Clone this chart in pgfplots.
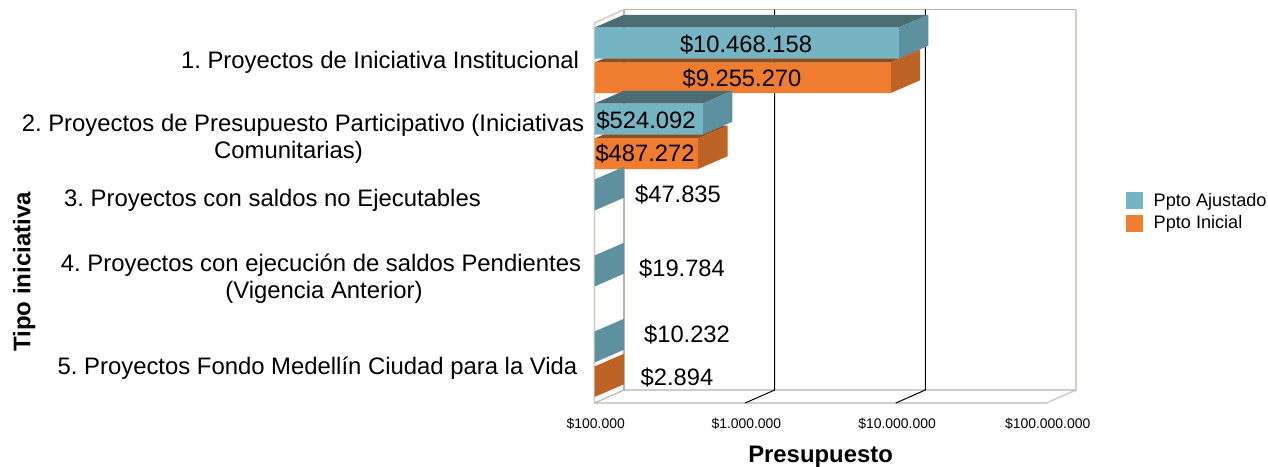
\documentclass[border=0pt]{standalone}
\usepackage{pgfplots}
\pgfplotsset{compat=1.18}
\usepackage{fontspec}
\setmainfont{Liberation Sans}
\frenchspacing
\definecolor{cB}{HTML}{75B4C2}
\definecolor{cBs}{HTML}{5E919F}
\definecolor{cBt}{HTML}{4A6D74}
\definecolor{cO}{HTML}{F07D2F}
\definecolor{cOs}{HTML}{BC6325}
\definecolor{cOt}{HTML}{8F4E1F}
\definecolor{cW}{HTML}{D0D0C8}
\definecolor{cWd}{HTML}{B4B4AA}
\newcommand\catfont{\fontsize{17.9pt}{20pt}\selectfont}
\newcommand\valfont{\fontsize{17.8pt}{20pt}\selectfont}
\begin{document}
\begin{tikzpicture}
\path[use as bounding box] (0pt,0pt) rectangle (951pt,350.25pt);
\begin{axis}[
  at={(445.875pt,48pt)},anchor=south west,
  scale only axis,width=361.1pt,height=295.1pt,
  xmode=log,xmin=1e5,xmax=1.569e8,log origin=infty,
  y dir=reverse,ymin=-0.6776,ymax=4.5,
  clip=false,
  axis line style={draw=none},
  major tick length=0pt,minor tick length=0pt,tick style={draw=none},
  minor x tick num=0,
  xtick={1e5,1e6,1e7,1e8},xtick pos=bottom,
  xticklabels={\$100.000,\$1.000.000,\$10.000.000,\$100.000.000},
  xticklabel style={font=\fontsize{10.45pt}{12pt}\selectfont,anchor=center,yshift=-15.8pt,xshift=0.9pt},
  ytick=\empty,
  xlabel={\textbf{Presupuesto}},
  xlabel style={font=\fontsize{17.9pt}{20pt}\selectfont,at={(axis description cs:0.4695,-0.1372)},anchor=center},
  ylabel={\textbf{Tipo iniciativa}},
  ylabel style={font=\fontsize{18pt}{20pt}\selectfont,at={(axis description cs:-1.1848,0.3330)},anchor=center},
  legend style={at={(axis description cs:1.1035,0.485)},anchor=west,draw=none,fill=none,
    font=\fontsize{13.6pt}{16pt}\selectfont,row sep=1.5pt,inner sep=0pt,
    /tikz/every odd column/.append style={column sep=5.9pt}},
  legend cell align=left,
  legend image code/.code={\fill[#1,draw=none] (0pt,-6.4pt) rectangle (12.8pt,6.4pt);},
]
\addlegendimage{fill=cB}\addlegendentry{Ppto Ajustado}
\addlegendimage{fill=cO}\addlegendentry{Ppto Inicial}
% walls
\addplot[cWd,line width=0.8pt,forget plot] coordinates {(156900,4.329)(156900,-0.6776)(1.569e8,-0.6776)};
\addplot[cW,line width=1.2pt,forget plot] coordinates {(1.569e8,-0.6776)(1.569e8,4.329)(1e8,4.5)(1e5,4.5)(1e5,-0.5)(156900,-0.6776)};
\addplot[cWd,line width=0.8pt,forget plot] coordinates {(1e5,4.5)(156900,4.329)(1.569e8,4.329)};
% gridlines
\addplot[black,line width=0.75pt,forget plot] coordinates {(1.569e6,-0.6776)(1.569e6,4.329)(1e6,4.5)};
\addplot[black,line width=0.75pt,forget plot] coordinates {(1.569e7,-0.6776)(1.569e7,4.329)(1e7,4.5)};
% Ppto Inicial
\addplot[fill=cOt,draw=none,forget plot] coordinates {(1e5,0.0197)(9255270,0.0197)(14521520,-0.1483)(156900,-0.1483)} -- cycle;
\addplot[fill=cOs,draw=none,forget plot] coordinates {(9255270,0.0197)(14521520,-0.1483)(14521520,0.253)(9255270,0.421)} -- cycle;
\addplot[fill=cOt,draw=none,forget plot] coordinates {(1e5,1.0197)(487272,1.0197)(764530,0.8517)(156900,0.8517)} -- cycle;
\addplot[fill=cOs,draw=none,forget plot] coordinates {(487272,1.0197)(764530,0.8517)(764530,1.253)(487272,1.421)} -- cycle;
\addplot[fill=cOs,draw=none,forget plot] coordinates {(1e5,4.0197)(156900,3.8517)(156900,4.253)(1e5,4.421)} -- cycle;
\addplot[xbar,bar width=22.9pt,bar shift=0pt,fill=cO,draw=none,forget plot,restrict x to domain=11.52:25]
  coordinates {(9255270,0.22035)(487272,1.22035)(2894,4.22035)};
% Ppto Ajustado
\addplot[fill=cBt,draw=none,forget plot] coordinates {(1e5,-0.4408)(10468158,-0.4408)(16424540,-0.6088)(156900,-0.6088)} -- cycle;
\addplot[fill=cBs,draw=none,forget plot] coordinates {(10468158,-0.4408)(16424540,-0.6088)(16424540,-0.2009)(10468158,-0.0329)} -- cycle;
\addplot[fill=cBt,draw=none,forget plot] coordinates {(1e5,0.5592)(524092,0.5592)(822300,0.3912)(156900,0.3912)} -- cycle;
\addplot[fill=cBs,draw=none,forget plot] coordinates {(524092,0.5592)(822300,0.3912)(822300,0.7991)(524092,0.9671)} -- cycle;
\addplot[fill=cBs,draw=none,forget plot] coordinates {(1e5,1.5592)(156900,1.3912)(156900,1.7991)(1e5,1.9671)} -- cycle;
\addplot[fill=cBs,draw=none,forget plot] coordinates {(1e5,2.5592)(156900,2.3912)(156900,2.7991)(1e5,2.9671)} -- cycle;
\addplot[fill=cBs,draw=none,forget plot] coordinates {(1e5,3.5592)(156900,3.3912)(156900,3.7991)(1e5,3.9671)} -- cycle;
\addplot[xbar,bar width=23.25pt,bar shift=0pt,fill=cB,draw=none,forget plot,restrict x to domain=11.52:25]
  coordinates {(10468158,-0.23685)(524092,0.76315)(47835,1.76315)(19784,2.76315)(10232,3.76315)};
\end{axis}
\begin{scope}[x=0.75pt,y=-0.75pt,yshift=350.25pt]
% value labels
\node[font=\valfont] at (746,45) {\$10.468.158};
\node[font=\valfont] at (742,79) {\$9.255.270};
\node[font=\valfont] at (646,121) {\$524.092};
\node[font=\valfont] at (645,154) {\$487.272};
\node[font=\valfont] at (678,195) {\$47.835};
\node[font=\valfont] at (682,269) {\$19.784};
\node[font=\valfont] at (687,335) {\$10.232};
\node[font=\valfont] at (677,378) {\$2.894};
% category labels
\node[font=\catfont] at (380,62) {1. Proyectos de Iniciativa Institucional};
\node[font=\catfont] at (303,125) {2. Proyectos de Presupuesto Participativo (Iniciativas};
\node[font=\catfont] at (288.5,152) {Comunitarias)};
\node[font=\catfont] at (272.5,200) {3. Proyectos con saldos no Ejecutables};
\node[font=\catfont] at (321,265) {4. Proyectos con ejecución de saldos Pendientes};
\node[font=\catfont] at (324,292) {(Vigencia Anterior)};
\node[font=\catfont] at (317.5,368) {5. Proyectos Fondo Medellín Ciudad para la Vida};
\end{scope}
\end{tikzpicture}
\end{document}
